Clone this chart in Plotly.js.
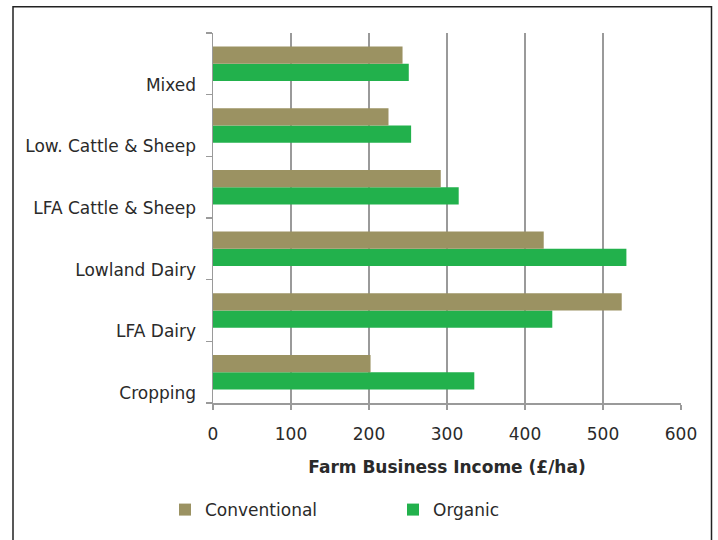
<!DOCTYPE html>
<html>
<head>
<meta charset="utf-8">
<script src="https://cdn.plot.ly/plotly-3.0.1.min.js"></script>
<style>
  html, body { margin: 0; padding: 0; background: #fff; }
  #chart { width: 718px; height: 540px; }
</style>
</head>
<body>
<div id="chart"></div>
<script>
const categories = ["Cropping", "LFA Dairy", "Lowland Dairy", "LFA Cattle & Sheep", "Low. Cattle & Sheep", "Mixed"];
const conventional = [202, 524, 424, 292, 225, 243];
const organic = [335, 435, 530, 315, 254, 251];
const xTicks = [0, 100, 200, 300, 400, 500, 600];
const xTitle = "Farm Business Income (£/ha)";

const W = 718, H = 540;
const L = 213, R = 37, T = 33, B = 133;
const pw = W - L - R, ph = H - T - B;
const px = v => (v - L) / pw;
const py = v => (H - B - v) / ph;

const font = "DejaVu Sans, Verdana, sans-serif";
const textColor = "#2a2a2a";

const traces = [
  {
    type: "bar", orientation: "h", name: "Organic",
    y: categories, x: organic,
    marker: { color: "#22b14c", line: { width: 0 } },
    legendrank: 2, hoverinfo: "x+y"
  },
  {
    type: "bar", orientation: "h", name: "Conventional",
    y: categories, x: conventional,
    marker: { color: "#9b9262", line: { width: 0 } },
    legendrank: 1, hoverinfo: "x+y"
  }
];

const layout = {
  width: W, height: H,
  margin: { l: L, r: R, t: T, b: B, pad: 0 },
  paper_bgcolor: "#ffffff", plot_bgcolor: "#ffffff",
  font: { family: font, size: 17, color: textColor },
  barmode: "group", bargap: 0.44, bargroupgap: 0,
  showlegend: true,
  legend: {
    orientation: "h",
    x: px(165), xanchor: "left",
    y: py(497), yanchor: "top",
    font: { family: font, size: 17, color: textColor },
    entrywidth: 183, entrywidthmode: "pixels",
    itemwidth: 30,
    traceorder: "normal"
  },
  xaxis: {
    range: [0, 600],
    tickvals: xTicks, ticktext: xTicks.map(String),
    showgrid: true, gridcolor: "#9a9a9a", gridwidth: 1.5,
    zeroline: false,
    showline: true, linecolor: "#9a9a9a", linewidth: 1.5,
    ticks: "outside", ticklen: 5, tickcolor: "#9a9a9a", tickwidth: 1.5,
    tickfont: { family: font, size: 17, color: textColor },
    ticklabelstandoff: 10,
    title: { text: xTitle, font: { family: font, size: 17, color: textColor, weight: "bold" }, standoff: 18 },
    fixedrange: true
  },
  yaxis: {
    type: "category",
    categoryorder: "array", categoryarray: categories,
    range: [-0.5, 5.5],
    showgrid: false, zeroline: false,
    showline: true, linecolor: "#9a9a9a", linewidth: 1.5,
    ticks: "outside", ticklen: 6, tickcolor: "#9a9a9a", tickwidth: 1.5,
    tickson: "boundaries",
    tickfont: { family: font, size: 17, color: textColor },
    ticklabelshift: 21,
    ticklabelstandoff: 12,
    fixedrange: true
  },
  shapes: [
    {
      type: "rect", xref: "paper", yref: "paper",
      x0: px(13), x1: px(711.5), y0: py(560), y1: py(6.5),
      line: { color: "#222222", width: 1.5 }, fillcolor: "rgba(0,0,0,0)",
      layer: "above"
    }
  ]
};

Plotly.newPlot("chart", traces, layout, { displayModeBar: false, staticPlot: true });
</script>
</body>
</html>
